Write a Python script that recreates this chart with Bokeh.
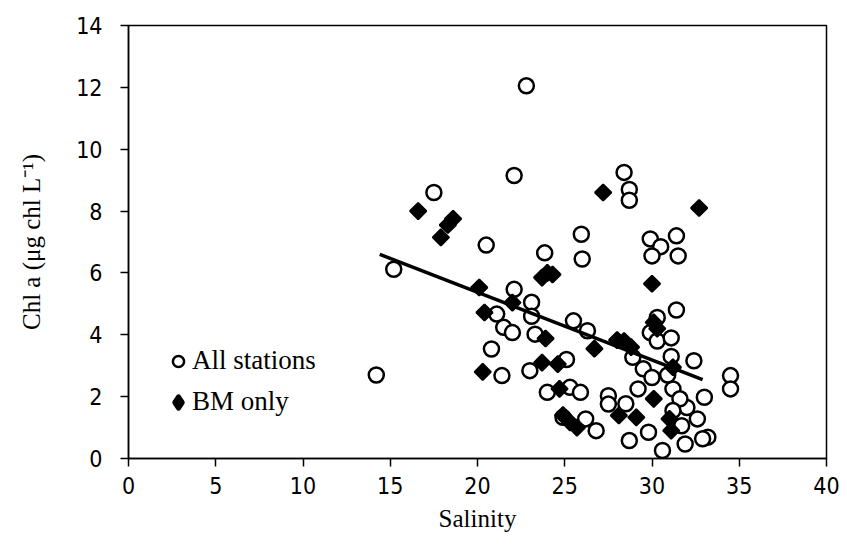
import math

from bokeh.plotting import figure
from bokeh.models import Legend, LegendItem, ColumnDataSource
from bokeh.embed import file_html
from bokeh.resources import INLINE

# All stations: salinity vs chlorophyll a
all_salinity = [22.8, 22.1, 17.5, 28.4, 28.7, 28.7, 20.5, 25.95, 26.0, 23.85,
                15.2, 29.9, 31.4, 30.5, 30.0, 31.5, 22.1, 23.1, 31.4, 14.2,
                21.1, 21.5, 22.0, 23.1, 23.3, 25.5, 26.3, 20.8, 21.4, 23.0,
                25.1, 24.0, 25.3, 25.9, 27.5, 27.5, 24.9, 26.2, 26.8, 30.3,
                29.9, 30.3, 31.1, 28.9, 29.5, 30.0, 31.1, 32.4, 34.5, 34.5,
                28.5, 29.2, 31.2, 32.0, 33.0, 31.6, 32.6, 31.7, 28.7, 29.8,
                30.6, 31.9, 33.2, 32.9, 31.2, 30.9]
all_chl = [12.05, 9.15, 8.6, 9.25, 8.7, 8.35, 6.9, 7.25, 6.45, 6.65,
           6.12, 7.1, 7.2, 6.85, 6.55, 6.55, 5.47, 5.05, 4.8, 2.7,
           4.67, 4.24, 4.07, 4.6, 4.02, 4.45, 4.13, 3.54, 2.68, 2.84,
           3.2, 2.14, 2.3, 2.14, 2.03, 1.76, 1.33, 1.28, 0.9, 4.56,
           4.07, 3.8, 3.9, 3.27, 2.9, 2.62, 3.3, 3.16, 2.68, 2.25,
           1.77, 2.25, 2.25, 1.65, 1.98, 1.93, 1.28, 1.06, 0.58, 0.85,
           0.26, 0.47, 0.69, 0.64, 1.55, 2.7]

# Stations in BM only
bm_salinity = [27.2, 32.7, 16.6, 18.6, 18.3, 17.9, 24.0, 23.7, 24.3, 30.0,
               20.1, 22.0, 20.4, 23.9, 30.1, 30.3, 28.0, 28.4, 28.8, 26.7,
               23.7, 24.6, 20.3, 31.2, 24.7, 30.1, 24.9, 25.3, 25.7, 28.1,
               29.1, 31.0, 31.1]
bm_chl = [8.6, 8.1, 8.0, 7.75, 7.55, 7.15, 6.0, 5.85, 5.95, 5.65,
          5.53, 5.04, 4.72, 3.88, 4.4, 4.2, 3.83, 3.8, 3.6, 3.55,
          3.1, 3.05, 2.8, 2.95, 2.25, 1.93, 1.4, 1.17, 1.0, 1.39,
          1.33, 1.28, 0.9]

# Linear trend (end points)
trend_salinity = [14.4, 32.9]
trend_chl = [6.6, 2.55]

x_ticks = [0, 5, 10, 15, 20, 25, 30, 35, 40]
y_ticks = [0, 2, 4, 6, 8, 10, 12, 14]

TICK_FONT = "'Liberation Sans Narrow', 'DejaVu Sans Condensed', 'Liberation Sans', sans-serif"
SERIF = "'Liberation Serif', 'Times New Roman', serif"

p = figure(width=847, height=554, output_backend="svg", toolbar_location=None,
           x_range=(0, 40), y_range=(0, 14),
           min_border_left=128, min_border_right=21,
           min_border_top=25, min_border_bottom=96)

p.xgrid.visible = False
p.ygrid.visible = False
p.outline_line_color = "black"
p.outline_line_width = 1.5
p.background_fill_color = "white"
p.border_fill_color = "white"

for ax in (p.xaxis, p.yaxis):
    ax.axis_line_color = "black"
    ax.axis_line_width = 1.5
    ax.major_tick_line_color = "black"
    ax.major_tick_line_width = 1.5
    ax.major_tick_in = 0
    ax.major_tick_out = 8
    ax.minor_tick_line_color = None
    ax.major_label_text_font = TICK_FONT
    ax.major_label_text_font_size = "23px"
    ax.major_label_text_color = "black"
    ax.axis_label_text_font = SERIF
    ax.axis_label_text_font_size = "25px"
    ax.axis_label_text_font_style = "normal"
    ax.axis_label_text_color = "black"

p.xaxis.ticker = x_ticks
p.yaxis.ticker = y_ticks
p.xaxis.major_label_standoff = 10
p.yaxis.major_label_standoff = 18
p.xaxis.axis_label = "Salinity"
p.yaxis.axis_label = "Chl a (\u03bcg chl L\u207b\u00b9)"
p.xaxis.axis_label_standoff = 8
p.yaxis.axis_label_standoff = 28

src_all = ColumnDataSource(data=dict(x=all_salinity, y=all_chl))
src_bm = ColumnDataSource(data=dict(x=bm_salinity, y=bm_chl))

r_all = p.scatter("x", "y", source=src_all, marker="circle", size=15,
                  fill_color="white", line_color="black", line_width=2.5)
p.line(trend_salinity, trend_chl, line_color="black", line_width=3.5)

# small diamond core for the BM series (this is what the legend shows)
r_bm_key = p.scatter("x", "y", source=src_bm, marker="diamond", size=8,
                     fill_color="black", line_color="black",
                     line_width=5, line_join="round")
# full-size BM diamonds: squares turned by 45 degrees
r_bm = p.scatter("x", "y", source=src_bm, marker="square", size=11.5,
                 angle=math.pi / 4,
                 fill_color="black", line_color="black", line_width=2)

legend = Legend(items=[LegendItem(label="All stations", renderers=[r_all]),
                       LegendItem(label="BM only", renderers=[r_bm_key])],
                location=(36, 41), border_line_color=None,
                background_fill_alpha=0,
                label_text_font=SERIF, label_text_font_size="27px",
                label_text_color="black",
                glyph_width=28, glyph_height=28, label_height=28,
                label_standoff=0, spacing=10, padding=10)
p.add_layout(legend, "center")

open("out.html", "w").write(file_html(p, INLINE))
